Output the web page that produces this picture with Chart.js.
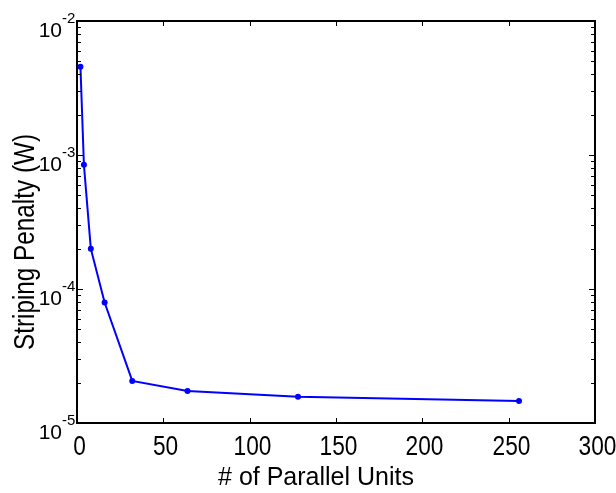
<!DOCTYPE html>
<html>
<head>
<meta charset="utf-8">
<script src="https://cdn.jsdelivr.net/npm/chart.js@4/dist/chart.umd.min.js"></script>
<style>
  html, body { margin: 0; padding: 0; background: #ffffff; }
  #wrap { width: 616px; height: 493px; }
</style>
</head>
<body>
<div id="wrap"><canvas id="chart" width="616" height="493"></canvas></div>
<script>
// Number of parallel units and the measured striping penalty (W)
const units = [2, 4, 8, 16, 32, 64, 128, 256];
const penalty = [4.56e-3, 8.45e-4, 2.0e-4, 7.93e-5, 2.06e-5, 1.73e-5, 1.57e-5, 1.46e-5];

// Axis ticks
const xTicks = [0, 50, 100, 150, 200, 250, 300];
const yExponents = [-5, -4, -3, -2];

const xTitle = '# of Parallel Units';
const yTitle = 'Striping Penalty (W)';

const FONT = '"Liberation Sans", Arial, Helvetica, sans-serif';

// Draw text condensed along its baseline (narrow Helvetica look)
function narrowText(ctx, text, x, y, size, squeeze, align, angle) {
  ctx.save();
  ctx.fillStyle = '#000';
  ctx.translate(x, y);
  if (angle) ctx.rotate(angle);
  ctx.scale(squeeze, 1);
  ctx.font = size + 'px ' + FONT;
  ctx.textAlign = align;
  ctx.textBaseline = 'alphabetic';
  ctx.fillText(text, 0, 0);
  ctx.restore();
}

// Boxed axes with inward ticks, log decade labels with superscript exponents
const boxAxes = {
  id: 'boxAxes',
  afterDraw(chart) {
    const ctx = chart.ctx;
    const a = chart.chartArea;
    const xs = chart.scales.x;
    const ys = chart.scales.y;
    ctx.save();
    ctx.strokeStyle = '#000';

    // frame
    ctx.lineWidth = 2;
    ctx.strokeRect(a.left, a.top, a.right - a.left, a.bottom - a.top);

    // x ticks and labels
    ctx.lineWidth = 1;
    xTicks.forEach(v => {
      const px = Math.round(xs.getPixelForValue(v)) + 0.5;
      ctx.beginPath();
      ctx.moveTo(px, a.bottom); ctx.lineTo(px, a.bottom - 5);
      ctx.moveTo(px, a.top); ctx.lineTo(px, a.top + 5);
      ctx.stroke();
      narrowText(ctx, String(v), px + 2, a.bottom + 32, 27, 0.84, 'center');
    });

    // y major ticks and labels
    yExponents.forEach(e => {
      const py = Math.round(ys.getPixelForValue(Math.pow(10, e))) + 0.5;
      ctx.beginPath();
      ctx.moveTo(a.left, py); ctx.lineTo(a.left + 6, py);
      ctx.moveTo(a.right, py); ctx.lineTo(a.right - 6, py);
      ctx.stroke();
      narrowText(ctx, '10', 62, py + 15, 21, 1, 'right');
      narrowText(ctx, '-' + (-e), 62, py + 1, 15, 1, 'left');
    });

    // y minor ticks
    for (let i = 0; i < yExponents.length - 1; i++) {
      for (let k = 2; k <= 9; k++) {
        const py = Math.round(ys.getPixelForValue(k * Math.pow(10, yExponents[i]))) + 0.5;
        ctx.beginPath();
        ctx.moveTo(a.left, py); ctx.lineTo(a.left + 4, py);
        ctx.moveTo(a.right, py); ctx.lineTo(a.right - 4, py);
        ctx.stroke();
      }
    }
    ctx.restore();

    // axis titles
    narrowText(ctx, xTitle, 316, 485, 25, 1.0, 'center');
    narrowText(ctx, yTitle, 34, 242, 30, 0.81, 'center', -Math.PI / 2);
  }
};

new Chart(document.getElementById('chart'), {
  type: 'line',
  data: {
    datasets: [{
      data: units.map((u, i) => ({ x: u, y: penalty[i] })),
      borderColor: '#0000ff',
      backgroundColor: '#0000ff',
      borderWidth: 2,
      pointRadius: 3,
      pointBackgroundColor: '#0000ff',
      pointBorderColor: '#0000ff',
      pointBorderWidth: 0,
      tension: 0,
      clip: false
    }]
  },
  options: {
    responsive: false,
    animation: false,
    devicePixelRatio: 1,
    layout: { padding: { left: 77, right: 21, top: 21, bottom: 70 } },
    plugins: { legend: { display: false }, tooltip: { enabled: false } },
    scales: {
      x: { type: 'linear', min: 0, max: 300, display: false },
      y: { type: 'logarithmic', min: 1e-5, max: 1e-2, display: false }
    }
  },
  plugins: [boxAxes]
});
</script>
</body>
</html>
